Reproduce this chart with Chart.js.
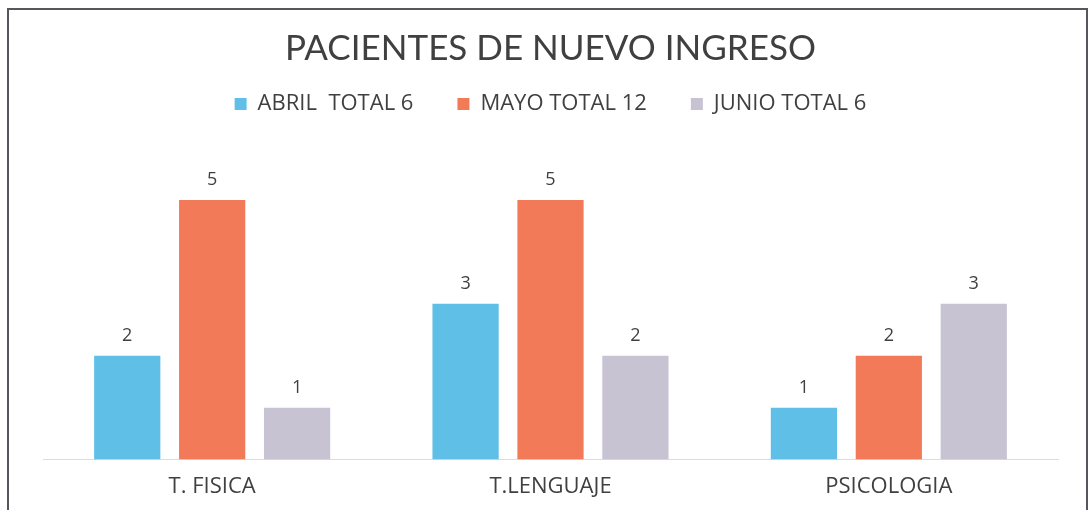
<!DOCTYPE html>
<html>
<head>
<meta charset="utf-8">
<script src="https://cdn.jsdelivr.net/npm/chart.js@4.4.1/dist/chart.umd.min.js"></script>
<style>
    html, body { margin: 0; padding: 0; background: #fff; overflow: hidden; }
    #wrap { position: relative; width: 1090px; height: 510px; }
    #frame {
        position: absolute; left: 7px; top: 8px; width: 1081px; height: 510px;
        border: 2px solid #56565c; border-bottom: none; box-sizing: border-box;
    }
</style>
</head>
<body>
<div id="wrap">
    <canvas id="ingresoChart" width="1090" height="510"></canvas>
    <div id="frame"></div>
</div>
<script>
// ── Data ──
const categories = ['T. FISICA', 'T.LENGUAJE', 'PSICOLOGIA'];
const seriesNames = ['ABRIL  TOTAL 6', 'MAYO TOTAL 12', 'JUNIO TOTAL 6'];
const abril = [2, 3, 1];
const mayo = [5, 5, 2];
const junio = [1, 2, 3];

const colors = ['#5fbfe6', '#f37a59', '#c8c3d3'];
const textColor = '#404040';

// value labels above each bar
const barLabels = {
    id: 'barLabels',
    afterDatasetsDraw(chart) {
        const ctx = chart.ctx;
        ctx.save();
        ctx.font = '18px "Open Sans"';
        ctx.fillStyle = textColor;
        ctx.textAlign = 'center';
        ctx.textBaseline = 'bottom';
        chart.data.datasets.forEach((ds, i) => {
            chart.getDatasetMeta(i).data.forEach((bar, j) => {
                ctx.fillText(ds.data[j], bar.x, bar.y - 11);
            });
        });
        ctx.restore();
    }
};

// fixed legend block height so the plot starts lower
const legendGap = {
    id: 'legendGap',
    beforeInit(chart) {
        const fit = chart.legend.fit;
        chart.legend.fit = function () {
            fit.bind(chart.legend)();
            this.height = 99;
        };
    }
};

const ctx = document.getElementById('ingresoChart').getContext('2d');
new Chart(ctx, {
    type: 'bar',
    data: {
        labels: categories,
        datasets: [
            { label: seriesNames[0], data: abril, backgroundColor: colors[0] },
            { label: seriesNames[1], data: mayo, backgroundColor: colors[1] },
            { label: seriesNames[2], data: junio, backgroundColor: colors[2] }
        ]
    },
    options: {
        responsive: false,
        animation: false,
        datasets: { bar: { categoryPercentage: 0.753, barPercentage: 0.78 } },
        layout: { padding: { top: 10, left: 43, right: 32, bottom: -4 } },
        plugins: {
            title: {
                display: true,
                text: 'PACIENTES DE NUEVO INGRESO',
                color: textColor,
                font: { family: 'Lato', size: 35, weight: 'normal' },
                padding: { top: 18, bottom: -21 }
            },
            legend: {
                labels: {
                    color: textColor,
                    font: { family: 'Open Sans', size: 22 },
                    boxWidth: 12,
                    boxHeight: 12,
                    padding: 44
                }
            },
            tooltip: { enabled: false }
        },
        scales: {
            x: {
                grid: { display: false, drawTicks: false },
                border: { display: true, color: '#dcdcdc' },
                ticks: { color: textColor, font: { family: 'Open Sans', size: 22 }, padding: 14 }
            },
            y: {
                display: false,
                min: 0,
                max: 6
            }
        }
    },
    plugins: [barLabels, legendGap]
});
</script>
</body>
</html>
